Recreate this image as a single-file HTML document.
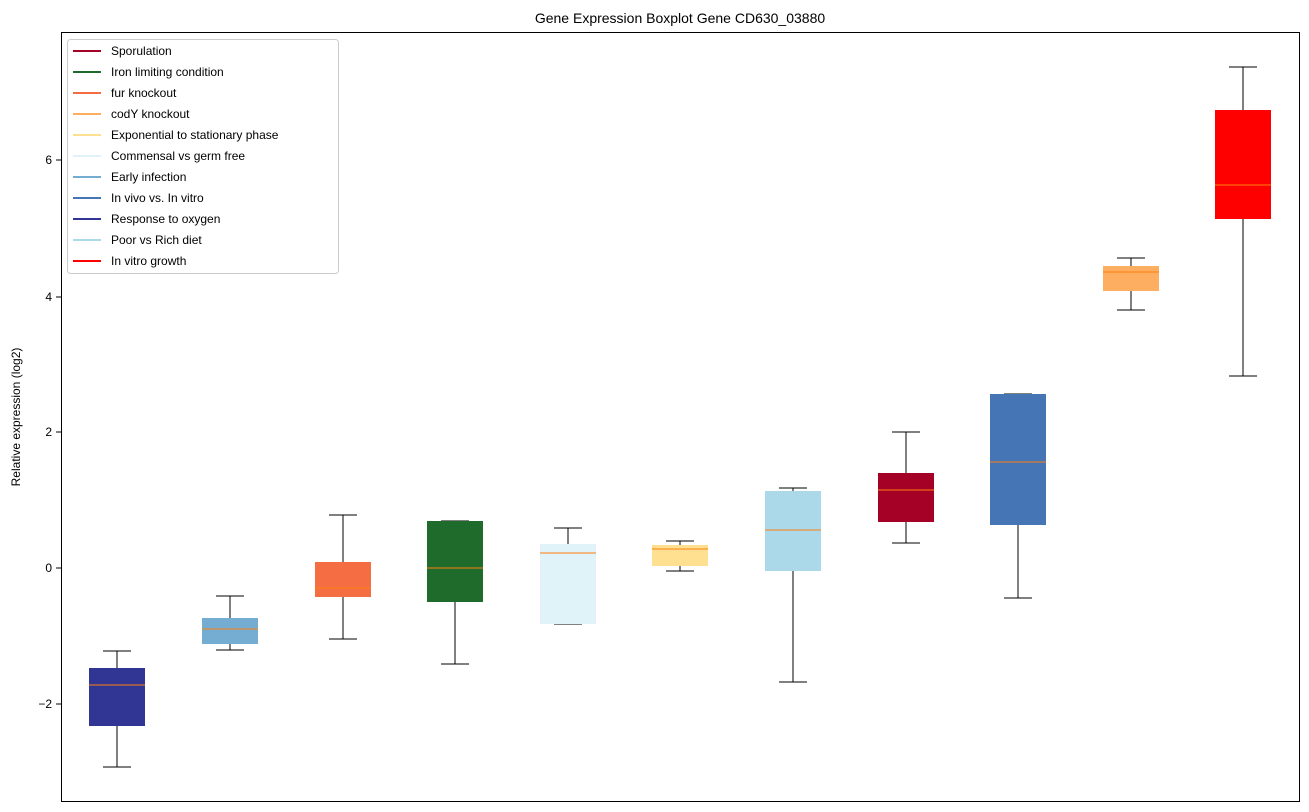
<!DOCTYPE html>
<html><head><meta charset="utf-8"><style>body{margin:0;background:#fff}svg{display:block;font-family:"Liberation Sans","DejaVu Sans",sans-serif}</style></head><body>
<svg width="1309" height="812" xmlns="http://www.w3.org/2000/svg">
<rect width="1309" height="812" fill="#fff"/>
<text x="680" y="23" font-size="14" text-anchor="middle">Gene Expression Boxplot Gene CD630_03880</text>
<g font-size="12" text-anchor="end">
<line x1="56" y1="160" x2="61" y2="160" stroke="#000"/><text x="52" y="164">6</text>
<line x1="56" y1="297" x2="61" y2="297" stroke="#000"/><text x="52" y="301">4</text>
<line x1="56" y1="432" x2="61" y2="432" stroke="#000"/><text x="52" y="436">2</text>
<line x1="56" y1="568" x2="61" y2="568" stroke="#000"/><text x="52" y="572">0</text>
<line x1="56" y1="704" x2="61" y2="704" stroke="#000"/><text x="52" y="708">−2</text>
</g>
<text transform="translate(20,417) rotate(-90)" font-size="12" text-anchor="middle">Relative expression (log2)</text>
<g stroke="#000">
<path d="M117 651V668M117 726V767M103 651H131M103 767H131"/>
<path d="M230 596V618M230 644V650M216 596H244M216 650H244"/>
<path d="M343 515V562M343 597V639M329 515H357M329 639H357"/>
<path d="M455 521V521M455 602V664M441 521H469M441 664H469"/>
<path d="M568 528V544M568 624V624M554 528H582M554 624H582"/>
<path d="M680 541V545M680 566V571M666 541H694M666 571H694"/>
<path d="M793 488V491M793 571V682M779 488H807M779 682H807"/>
<path d="M906 432V473M906 522V543M892 432H920M892 543H920"/>
<path d="M1018 394V394M1018 525V598M1004 394H1032M1004 598H1032"/>
<path d="M1131 258V266M1131 291V310M1117 258H1145M1117 310H1145"/>
<path d="M1243 67V110M1243 219V376M1229 67H1257M1229 376H1257"/>
</g>
<rect x="89" y="668" width="56" height="58" fill="#313695"/>
<rect x="202" y="618" width="56" height="26" fill="#74add1"/>
<rect x="315" y="562" width="56" height="35" fill="#f46d43"/>
<rect x="427" y="521" width="56" height="81" fill="#1f6b2c"/>
<rect x="540" y="544" width="56" height="80" fill="#e0f3f8"/>
<rect x="652" y="545" width="56" height="21" fill="#fee090"/>
<rect x="765" y="491" width="56" height="80" fill="#abd9e9"/>
<rect x="878" y="473" width="56" height="49" fill="#a50026"/>
<rect x="990" y="394" width="56" height="131" fill="#4575b4"/>
<rect x="1103" y="266" width="56" height="25" fill="#fdae61"/>
<rect x="1215" y="110" width="56" height="109" fill="#ff0000"/>
<g stroke="#ff7f0e">
<path d="M89 685H145M202 629H258M315 588H371M427 568H483M540 553H596M652 549H708M765 530H821M878 490H934M990 462H1046M1103 272H1159M1215 185H1271"/>
</g>
<rect x="61.5" y="32.5" width="1238" height="769" fill="none" stroke="#000"/>
<rect x="67.5" y="39.5" width="271" height="234" rx="3" fill="#fff" fill-opacity="0.8" stroke="#ccc"/>
<g font-size="12">
<g stroke-width="2">
<line x1="73" x2="101" y1="51" y2="51" stroke="#a50026"/>
<line x1="73" x2="101" y1="72" y2="72" stroke="#1f6b2c"/>
<line x1="73" x2="101" y1="93" y2="93" stroke="#f46d43"/>
<line x1="73" x2="101" y1="114" y2="114" stroke="#fdae61"/>
<line x1="73" x2="101" y1="135" y2="135" stroke="#fee090"/>
<line x1="73" x2="101" y1="156" y2="156" stroke="#e0f3f8"/>
<line x1="73" x2="101" y1="177" y2="177" stroke="#74add1"/>
<line x1="73" x2="101" y1="198" y2="198" stroke="#4575b4"/>
<line x1="73" x2="101" y1="219" y2="219" stroke="#313695"/>
<line x1="73" x2="101" y1="240" y2="240" stroke="#abd9e9"/>
<line x1="73" x2="101" y1="261" y2="261" stroke="#ff0000"/>
</g>
<text x="111" y="55">Sporulation</text>
<text x="111" y="76">Iron limiting condition</text>
<text x="111" y="97">fur knockout</text>
<text x="111" y="118">codY knockout</text>
<text x="111" y="139">Exponential to stationary phase</text>
<text x="111" y="160">Commensal vs germ free</text>
<text x="111" y="181">Early infection</text>
<text x="111" y="202">In vivo vs. In vitro</text>
<text x="111" y="223">Response to oxygen</text>
<text x="111" y="244">Poor vs Rich diet</text>
<text x="111" y="265">In vitro growth</text>
</g>
</svg>
</body></html>
